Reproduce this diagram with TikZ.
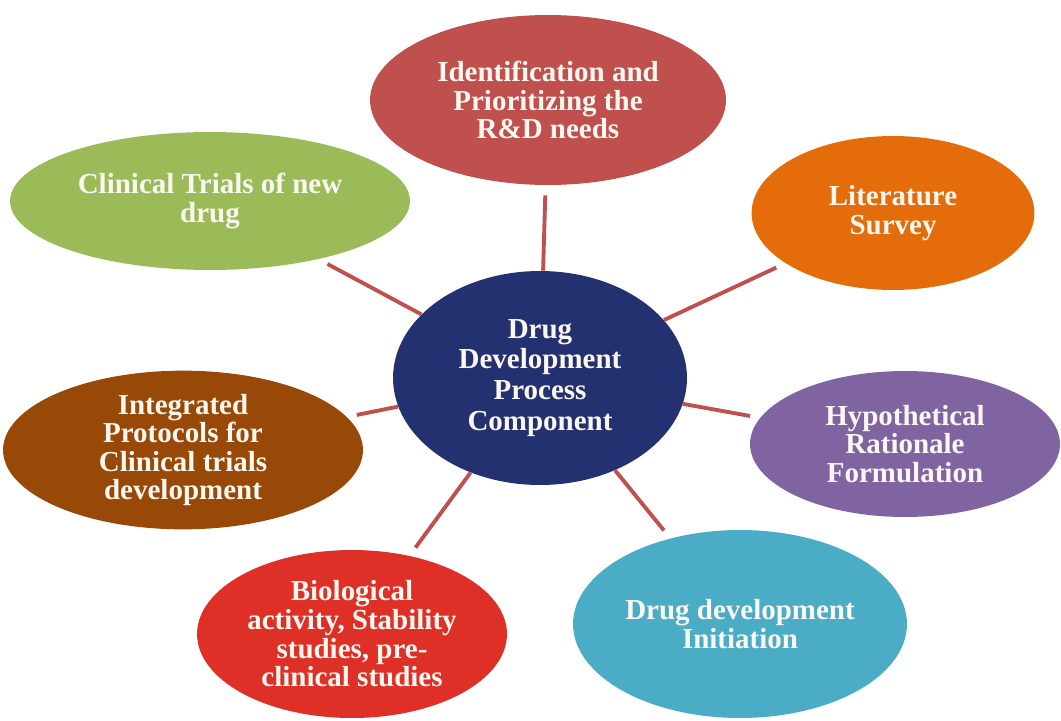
\documentclass[tikz,border=0pt]{standalone}
\usepackage{fontspec}
\setmainfont{Liberation Serif}
\usetikzlibrary{shapes.geometric}

\definecolor{hubblue}{RGB}{36,49,112}
\definecolor{needsred}{RGB}{192,80,77}
\definecolor{trialsgreen}{RGB}{155,187,89}
\definecolor{surveyorange}{RGB}{228,108,10}
\definecolor{hypopurple}{RGB}{128,100,162}
\definecolor{protobrown}{RGB}{152,72,7}
\definecolor{biored}{RGB}{222,48,38}
\definecolor{initteal}{RGB}{75,172,198}
\definecolor{spokered}{RGB}{192,80,77}
\definecolor{labelwhite}{RGB}{250,247,240}

\begin{document}
\begin{tikzpicture}[x=0.02cm, y=-0.02cm,
	bubble/.style={ellipse, inner sep=0pt, text=labelwhite, align=center,
		font=\bfseries\fontsize{16.5}{16.3}\selectfont},
	spoke/.style={draw=spokered, line width=2.2pt, shorten >=0.2cm}]
\useasboundingbox (0,0) rectangle (1061,720);

% centre
\node[bubble, fill=hubblue, minimum width=5.88cm, minimum height=4.28cm,
	font=\bfseries\fontsize{16.5}{17.6}\selectfont] (hub) at (540,378)
	{Drug\\Development\\Process\\Component};

% the seven steps round it
\node[bubble, fill=needsred, minimum width=7.12cm, minimum height=3.4cm] (needs) at (548,100)
	{Identification and\\Prioritizing the\\R\&D needs};
\node[bubble, fill=surveyorange, minimum width=5.4cm, minimum height=3.08cm] (survey) at (893,213)
	{\raisebox{9pt}{\parbox{4cm}{\centering Literature\\Survey}}};
\node[bubble, fill=hypopurple, minimum width=6.2cm, minimum height=2.92cm] (hypo) at (905,444)
	{Hypothetical\\Rationale\\Formulation};
\node[bubble, fill=initteal, minimum width=6.68cm, minimum height=3.76cm] (init) at (740,624)
	{Drug development\\Initiation};
\node[bubble, fill=biored, minimum width=6.2cm, minimum height=3.36cm] (bio) at (352,634)
	{Biological\\activity, Stability\\studies, pre-\\clinical studies};
\node[bubble, fill=protobrown, minimum width=7.2cm, minimum height=2.92cm] (proto) at (183,450)
	{Integrated\\Protocols for\\Clinical trials\\development};
\node[bubble, fill=trialsgreen, minimum width=8cm, minimum height=2.76cm] (trials) at (210,201)
	{Clinical Trials of new\\drug};

\foreach \n in {needs,survey,hypo,init,bio,proto,trials}
	\draw[spoke] (hub) -- (\n);
\end{tikzpicture}
\end{document}
